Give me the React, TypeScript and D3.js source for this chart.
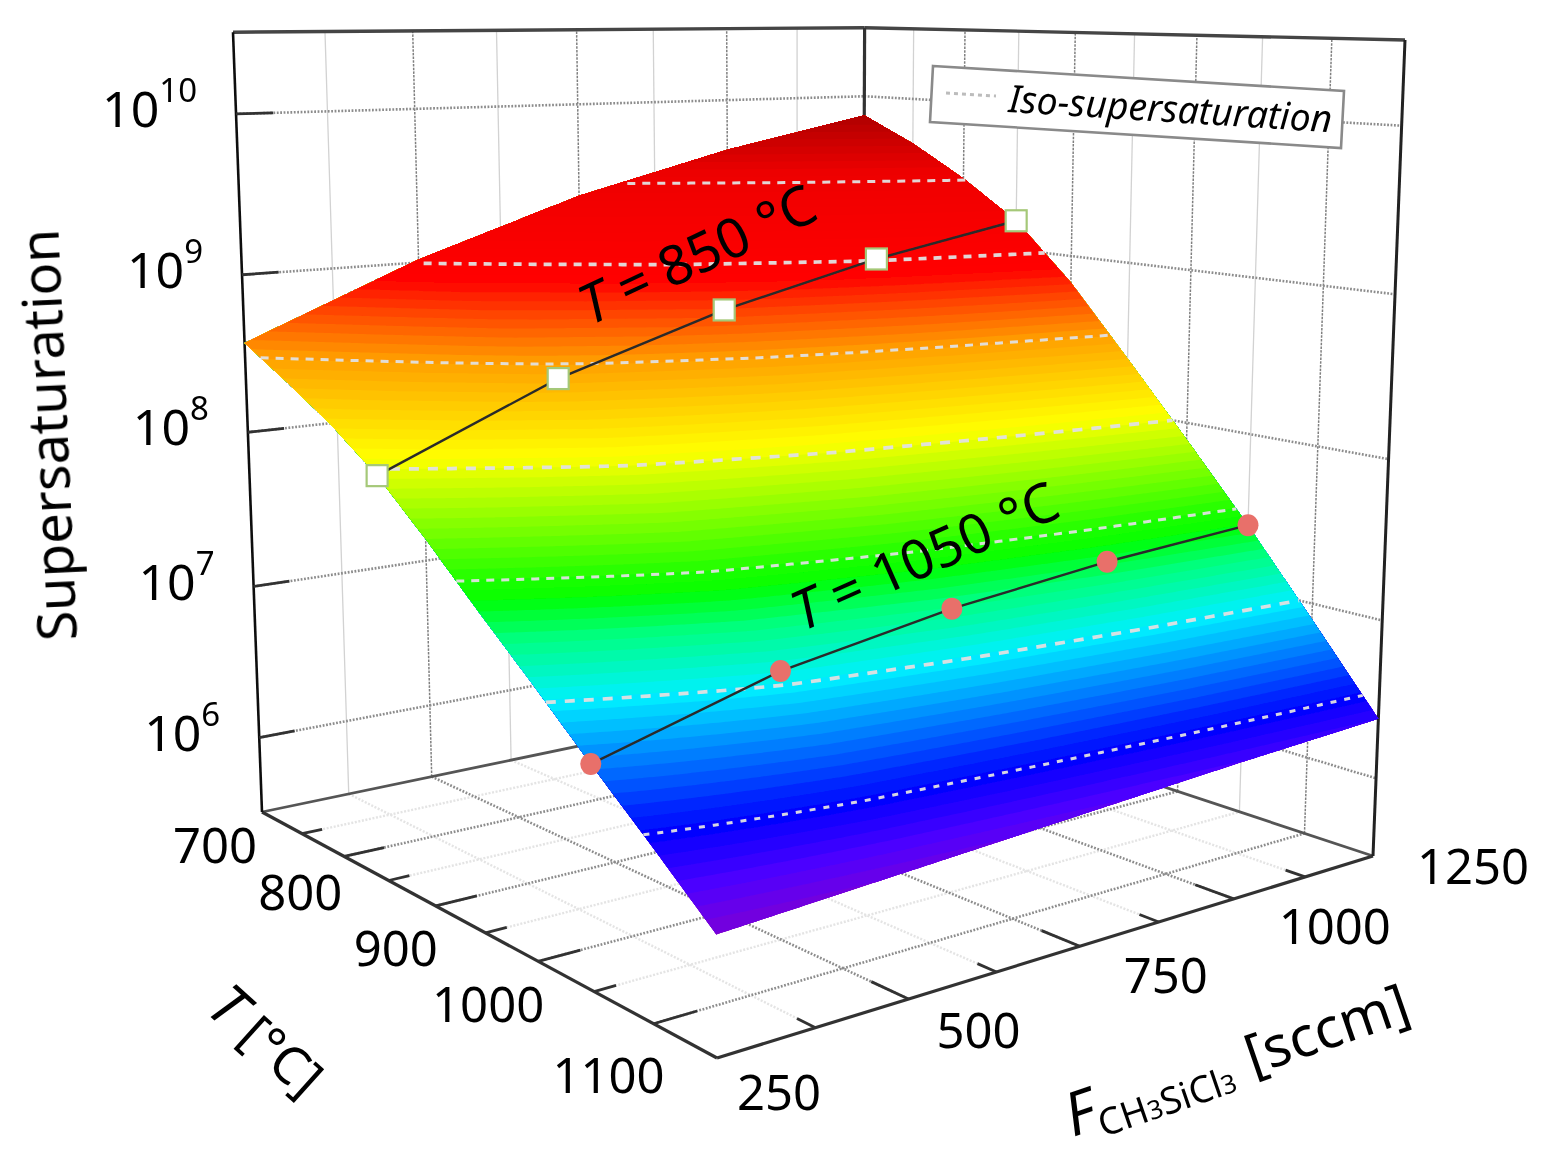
import React from "react";
import * as d3 from "d3";

// flow axis and temperature axis of the surface grid
const tempGrid = [700, 750, 800, 850, 900, 950, 1000, 1050, 1100, 1150];
const flowGrid = [250, 500, 750, 1000, 1250];

// log10 supersaturation, one list per flow column
const logAtFlow250 = [8.57, 8.39, 8.2, 7.97, 7.68, 7.37, 7.07, 6.76, 6.46, 6.15];
const logAtFlow500 = [9.02, 8.85, 8.66, 8.43, 8.12, 7.78, 7.42, 7.06, 6.64, 6.21];
const logAtFlow750 = [9.38, 9.18, 8.99, 8.76, 8.41, 8.02, 7.63, 7.23, 6.75, 6.27];
const logAtFlow1000 = [9.65, 9.45, 9.25, 9.01, 8.63, 8.19, 7.77, 7.34, 6.84, 6.33];
const logAtFlow1250 = [9.86, 9.68, 9.46, 9.2, 8.82, 8.36, 7.89, 7.41, 6.9, 6.38];
const surfaceColumns = [logAtFlow250, logAtFlow500, logAtFlow750, logAtFlow1000, logAtFlow1250];

// measured runs along the surface
const series850 = [7.97, 8.43, 8.76, 9.01, 9.2];
const series1050 = [6.76, 7.06, 7.23, 7.34, 7.41];

const isoLevels = [6.5, 7, 7.5, 8, 8.5, 9, 9.45];
const logTicks = [6, 7, 8, 9, 10];
const tempTicksMinor = [750, 850, 950, 1050, 1150];
const tempTicksMajor = [800, 900, 1000, 1100];
const tempLabels = [700, 800, 900, 1000, 1100];
const flowTicksMinor = [375, 625, 875, 1125];
const flowTicksMajor = [500, 750, 1000];
const flowLabels = [250, 500, 750, 1000, 1250];

const colorStops = [6, 6.15, 6.3, 6.5, 7, 7.25, 7.42, 8.05, 8.5, 8.92, 9.5, 9.85];
const colorValues = ["#8000c0", "#7a00d8", "#5000ff", "#0000ff", "#00f0ff", "#00ff80", "#00ff00", "#ffff00", "#ffa000", "#ff0000", "#ee0000", "#b00000"];

const WIDTH = 1544;
const HEIGHT = 1159;

const tempRange = [700, 1150];
const flowRange = [250, 1250];
const logRange = [5.5, 10.5];

// box corners on the page, used to build the perspective
const A = [262, 812];
const B = [717, 1058];
const C = [1373, 856];
const D = [862, 687];
const topA = [233, 35];
const topC = [1405, 37];

const tempU = d3.scaleLinear().domain(tempRange).range([0, 1]);
const flowV = d3.scaleLinear().domain(flowRange).range([0, 1]);
const logW = d3.scaleLinear().domain(logRange).range([0, 1]);
const color = d3.scaleLinear<string>().domain(colorStops).range(colorValues).clamp(true);

// unit square to floor quad
const dx1 = B[0] - C[0], dx2 = D[0] - C[0], sx = A[0] - B[0] + C[0] - D[0];
const dy1 = B[1] - C[1], dy2 = D[1] - C[1], sy = A[1] - B[1] + C[1] - D[1];
const den = dx1 * dy2 - dx2 * dy1;
const g = (sx * dy2 - dx2 * sy) / den;
const h = (dx1 * sy - sx * dy1) / den;
const a = B[0] - A[0] + g * B[0];
const b = D[0] - A[0] + h * D[0];
const d = B[1] - A[1] + g * B[1];
const e = D[1] - A[1] + h * D[1];

// the vertical column of the projection comes from the two outer top corners
const wC = g + h + 1;
const xC0 = a + b + A[0];
const yC0 = d + e + A[1];
const c2 = ((A[0] - topA[0]) + (topC[0] * wC - xC0)) / (topA[0] - topC[0]);
const a2 = topA[0] * (1 + c2) - A[0];
const b2 = ((topA[1] * (1 + c2) - A[1]) + (topC[1] * (wC + c2) - yC0)) / 2;

const project = (temp: number, flow: number, log: number): [number, number] => {
  const u = tempU(temp);
  const v = flowV(flow);
  const w = logW(log);
  const W = g * u + h * v + 1 + c2 * w;
  return [(a * u + b * v + A[0] + a2 * w) / W, (d * u + e * v + A[1] + b2 * w) / W];
};

const tempIndex = d3.scaleLinear().domain(tempGrid).range(tempGrid.map((_, i) => i)).clamp(true);
const flowIndex = d3.scaleLinear().domain(flowGrid).range(flowGrid.map((_, i) => i)).clamp(true);

const surfaceAt = (temp: number, flow: number) => {
  const ti = tempIndex(temp);
  const fi = flowIndex(flow);
  const t0 = Math.min(Math.floor(ti), tempGrid.length - 2);
  const f0 = Math.min(Math.floor(fi), flowGrid.length - 2);
  const tf = ti - t0;
  const ff = fi - f0;
  const low = surfaceColumns[f0][t0] * (1 - tf) + surfaceColumns[f0][t0 + 1] * tf;
  const high = surfaceColumns[f0 + 1][t0] * (1 - tf) + surfaceColumns[f0 + 1][t0 + 1] * tf;
  return low * (1 - ff) + high * ff;
};

const linePath = d3.line();

// fine sampling of the table so d3.contours can cut the colour bands
const nFlow = 201;
const nTemp = 181;
const sampleFlow = d3.scaleLinear().domain([0, nFlow - 1]).range(flowRange).clamp(true);
const sampleTemp = d3.scaleLinear().domain([0, nTemp - 1]).range(tempRange).clamp(true);
const samples: number[] = [];
for (let j = 0; j < nTemp; j++) {
  for (let i = 0; i < nFlow; i++) samples.push(surfaceAt(sampleTemp(j), sampleFlow(i)));
}
const bandLevels = d3.range(6.02, 9.9, 0.045);
const bands = d3.contours().size([nFlow, nTemp]).thresholds(bandLevels)(samples);

const bandPath = (multi: d3.ContourMultiPolygon) =>
  multi.coordinates
    .map((poly) =>
      poly
        .map((ring) => {
          const pts = ring.map(([gx, gy]) => {
            const flow = sampleFlow(gx - 0.5);
            const temp = sampleTemp(gy - 0.5);
            return project(temp, flow, surfaceAt(temp, flow));
          });
          return linePath(pts) + "Z";
        })
        .join(""),
    )
    .join("");

// walk along the flow axis and find the temperature of a level in each column
const isoPath = (level: number) => {
  const pts: [number, number][] = [];
  d3.range(250, 1251, 25).forEach((flow) => {
    const fi = flowIndex(flow);
    const f0 = Math.min(Math.floor(fi), flowGrid.length - 2);
    const ff = fi - f0;
    const col = tempGrid.map((_, t) => surfaceColumns[f0][t] * (1 - ff) + surfaceColumns[f0 + 1][t] * ff);
    if (level > col[0] || level < col[col.length - 1]) return;
    const temp = d3.scaleLinear().domain(col).range(tempGrid)(level);
    pts.push(project(temp, flow, level));
  });
  return linePath(pts) || "";
};

const floorY = logRange[0];
const topY = logRange[1];
const [t0, t1] = tempRange;
const [f0, f1] = flowRange;

const seg = (p: [number, number], q: [number, number]) => linePath([p, q]) || "";

const flowLabelOffset = [[62, 34], [70, 31], [86, 29], [101, 27], [100, 10]];
const tempLabelOffset = [[-47, 33], [-44, 36], [-40, 42], [-50, 43], [-45, 51]];
const FONT = "'Noto Sans', 'DejaVu Sans', sans-serif";

export default function App() {
  const gridDark = { stroke: "#808080", strokeWidth: 1.5, strokeDasharray: "2.5 1.2", fill: "none" };
  const gridLight = { stroke: "#d2d2d2", strokeWidth: 1.3, fill: "none" };
  const gridDotted = { stroke: "#8c8c8c", strokeWidth: 2.6, strokeDasharray: "1.8 1.6", fill: "none" };
  const floorLight = { stroke: "#e4e4e4", strokeWidth: 2.4, strokeDasharray: "2 1.6", fill: "none" };
  const tick = { stroke: "#333", strokeWidth: 2.8, fill: "none" };

  return (
    <svg
      width={WIDTH}
      height={HEIGHT}
      viewBox={`0 0 ${WIDTH} ${HEIGHT}`}
      style={{ position: "absolute", left: 0, top: 0, display: "block", background: "#fff" }}
      fontFamily={FONT}
    >
      <defs>
        <filter id="soft" x="0" y="0" width="100%" height="100%" filterUnits="userSpaceOnUse" primitiveUnits="userSpaceOnUse">
          <feGaussianBlur stdDeviation="0.6" />
        </filter>
      </defs>
      <g filter="url(#soft)">
        <rect width={WIDTH} height={HEIGHT} fill="#fff" />

        {/* wall grid */}
        {flowTicksMinor.map((f) => (
          <path key={`wf${f}`} d={seg(project(t0, f, floorY), project(t0, f, topY))} {...gridLight} />
        ))}
        {tempTicksMinor.slice(0, 4).map((t) => (
          <path key={`wt${t}`} d={seg(project(t, f1, floorY), project(t, f1, topY))} {...gridLight} />
        ))}
        {flowTicksMajor.map((f) => (
          <path key={`wF${f}`} d={seg(project(t0, f, floorY), project(t0, f, topY))} {...gridDark} />
        ))}
        {tempTicksMajor.map((t) => (
          <path key={`wT${t}`} d={seg(project(t, f1, floorY), project(t, f1, topY))} {...gridDark} />
        ))}
        {logTicks.map((l) => (
          <g key={`wl${l}`}>
            <path d={seg(project(t0, f0, l), project(t0, f1, l))} {...gridDotted} />
            <path d={seg(project(t0, f1, l), project(t1, f1, l))} {...gridDotted} />
          </g>
        ))}

        {/* floor grid */}
        {flowTicksMinor.map((f) => (
          <path key={`ff${f}`} d={seg(project(t0, f, floorY), project(t1, f, floorY))} {...floorLight} />
        ))}
        {tempTicksMinor.slice(0, 4).map((t) => (
          <path key={`ft${t}`} d={seg(project(t, f0, floorY), project(t, f1, floorY))} {...floorLight} />
        ))}
        {flowTicksMajor.map((f) => (
          <path key={`fF${f}`} d={seg(project(t0, f, floorY), project(t1, f, floorY))} {...gridDotted} />
        ))}
        {tempTicksMajor.map((t) => (
          <path key={`fT${t}`} d={seg(project(t, f0, floorY), project(t, f1, floorY))} {...gridDotted} />
        ))}

        {/* box */}
        <path d={seg(project(t0, f0, floorY), project(t0, f1, floorY))} stroke="#555" strokeWidth={2.8} fill="none" />
        <path d={seg(project(t0, f1, floorY), project(t1, f1, floorY))} stroke="#555" strokeWidth={2.8} fill="none" />
        <path d={seg(project(t0, f0, floorY), project(t1, f0, floorY))} stroke="#333" strokeWidth={3.2} fill="none" />
        <path d={seg(project(t1, f0, floorY), project(t1, f1, floorY))} stroke="#333" strokeWidth={3.2} fill="none" />
        <path d={seg(project(t0, f0, topY), project(t0, f1, topY))} stroke="#444" strokeWidth={3.4} fill="none" />
        <path d={seg(project(t0, f1, topY), project(t1, f1, topY))} stroke="#444" strokeWidth={3.4} fill="none" />
        <path d={seg(project(t0, f0, floorY), project(t0, f0, topY))} stroke="#111" strokeWidth={2.6} fill="none" />
        <path d={seg(project(t0, f1, floorY), project(t0, f1, topY))} stroke="#333" strokeWidth={3.2} fill="none" />
        <path d={seg(project(t1, f1, floorY), project(t1, f1, topY))} stroke="#222" strokeWidth={3} fill="none" />

        {/* axis ticks */}
        {logTicks.map((l) => (
          <path key={`tl${l}`} d={seg(project(t0, f0, l), project(t0, f0 + 50, l))} {...tick} />
        ))}
        {tempTicksMajor.map((t) => (
          <path key={`tT${t}`} d={seg(project(t, f0, floorY), project(t, f0 + 55, floorY))} {...tick} />
        ))}
        {tempTicksMinor.slice(0, 4).map((t) => (
          <path key={`tt${t}`} d={seg(project(t, f0, floorY), project(t, f0 + 28, floorY))} {...tick} />
        ))}
        {flowTicksMajor.map((f) => (
          <path key={`tF${f}`} d={seg(project(t1, f, floorY), project(t1 - 28, f, floorY))} {...tick} />
        ))}
        {flowTicksMinor.map((f) => (
          <path key={`tf${f}`} d={seg(project(t1, f, floorY), project(t1 - 14, f, floorY))} {...tick} />
        ))}

        {/* surface */}
        {bands.map((band) => (
          <path key={band.value} d={bandPath(band)} fill={color(band.value + 0.022)} />
        ))}

        {/* iso lines */}
        {isoLevels.map((level) => (
          <path
            key={level}
            d={isoPath(level)}
            fill="none"
            stroke="#e0e0e0"
            strokeOpacity={0.95}
            strokeWidth={level === 7 || level === 8 || level === 9 ? 3.7 : 3}
            strokeDasharray={level === 6.5 ? "6 8" : level === 8 || level === 7 ? "10 9" : "8 7"}
          />
        ))}

        {/* measured runs */}
        <path d={linePath(series850.map((v, i) => project(850, flowGrid[i], v))) || ""} fill="none" stroke="#2a2a2a" strokeWidth={2.4} />
        <path d={linePath(series1050.map((v, i) => project(1050, flowGrid[i], v))) || ""} fill="none" stroke="#2a2a2a" strokeWidth={2.4} />
        {series850.map((v, i) => {
          const [x, y] = project(850, flowGrid[i], v);
          return <rect key={i} x={x - 10.5} y={y - 10.5} width={21} height={21} fill="#fff" stroke="#a5c878" strokeWidth={2.2} />;
        })}
        {series1050.map((v, i) => {
          const [x, y] = project(1050, flowGrid[i], v);
          return <ellipse key={i} cx={x} cy={y} rx={10.5} ry={11} fill="#e8706a" />;
        })}

        {/* surface notes */}
        <text transform="translate(590,326) rotate(-25)" fontSize={55} fill="#000">
          <tspan fontStyle="italic">T</tspan> = 850 °C
        </text>
        <text transform="translate(802,632) rotate(-24)" fontSize={55} fill="#000">
          <tspan fontStyle="italic">T</tspan> = 1050 °C
        </text>

        {/* legend */}
        <polygon points="933,66 1344,91 1341,148 930,122" fill="#fff" stroke="#8a8a8a" strokeWidth={2.6} />
        <path d="M946,93 L996,96" stroke="#bcbcbc" strokeWidth={3} strokeDasharray="4 4" fill="none" />
        <text transform="translate(1008,112) rotate(3.6)" fontSize={38} fontStyle="italic" fill="#000" textLength={324} lengthAdjust="spacingAndGlyphs">
          Iso-supersaturation
        </text>

        {/* tick labels */}
        {logTicks.map((l) => {
          const [x, y] = project(t0, f0, l);
          return (
            <text key={l} x={x - 39} y={y + 13} textAnchor="end" fontSize={50} fill="#000">
              10
              <tspan dy={-25} fontSize={33}>{l}</tspan>
            </text>
          );
        })}
        {tempLabels.map((t, i) => {
          const [x, y] = project(t, f0, floorY);
          return (
            <text key={t} x={x + tempLabelOffset[i][0]} y={y + tempLabelOffset[i][1] + 18} textAnchor="middle" fontSize={49} fill="#000">
              {t}
            </text>
          );
        })}
        {flowLabels.map((f, i) => {
          const [x, y] = project(t1, f, floorY);
          return (
            <text key={f} x={x + flowLabelOffset[i][0]} y={y + flowLabelOffset[i][1] + 18} textAnchor="middle" fontSize={49} fill="#000">
              {f}
            </text>
          );
        })}

        {/* axis titles */}
        <text transform="translate(77,640) rotate(-92.6)" fontSize={55} fill="#000" textLength={412} lengthAdjust="spacingAndGlyphs">
          Supersaturation
        </text>
        <text transform="translate(204,1011) rotate(42)" fontSize={58} fill="#000">
          <tspan fontStyle="italic">T</tspan>
          <tspan dx={14} fontSize={52}>[°C]</tspan>
        </text>
        <text transform="translate(1073,1137) rotate(-19)" fontSize={60} fill="#000">
          <tspan fontStyle="italic">F</tspan>
          <tspan dy={10} fontSize={37}>CH</tspan>
          <tspan dy={0} fontSize={26}>3</tspan>
          <tspan fontSize={37}>SiCl</tspan>
          <tspan fontSize={26}>3</tspan>
          <tspan dx={18} dy={-10} fontSize={56}>[sccm]</tspan>
        </text>
      </g>
    </svg>
  );
}
